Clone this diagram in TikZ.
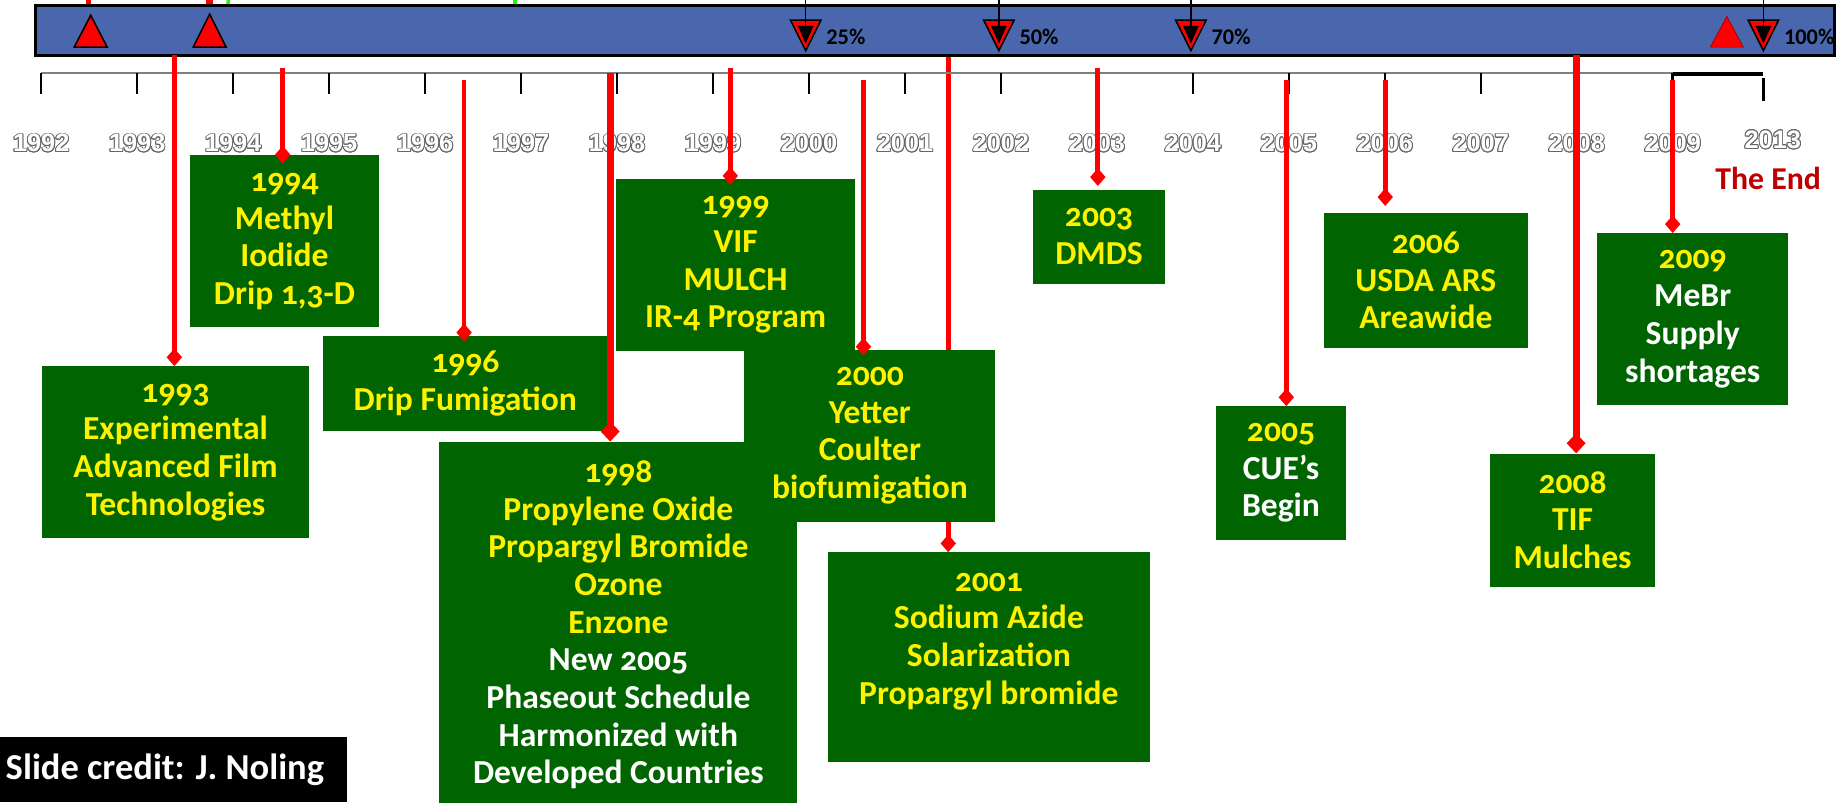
\documentclass[tikz,border=0pt]{standalone}
\usepackage{fontspec}
\setmainfont{Carlito}[Numbers=OldStyle]
\newfontfamily\yearfont{Liberation Sans}
\newfontfamily\linfont{Carlito}[Numbers=Lining]
\usepackage[copies]{contour}
\contourlength{0.8pt}
\usetikzlibrary{arrows.meta,positioning,backgrounds}
\definecolor{barblue}{RGB}{74,102,172}
\definecolor{boxgreen}{RGB}{0,100,0}
\definecolor{endred}{RGB}{192,0,0}

\begin{document}
\begin{tikzpicture}[x=1pt, y=-1pt,
  evt/.style={rectangle, fill=boxgreen, inner sep=0pt, align=center,
    text=yellow, font=\bfseries\fontsize{28.5}{32}\selectfont},
  stem/.style={red, line width=4pt, -{Diamond[width=13pt,length=15pt]}},
  fatstem/.style={red, line width=6pt, -{Diamond[width=16pt,length=17pt]}},
  yr/.style={font=\yearfont\bfseries\fontsize{21.5}{21.5}\selectfont, text=white},
  upmark/.style={fill=red, draw=black, line width=1.3pt},
  downmark/.style={fill=red, draw=black, line width=1.3pt},
  pct/.style={font=\linfont\bfseries\fontsize{19}{19}\selectfont, anchor=west}
]
\useasboundingbox (0,0) rectangle (1568,681);

% bits cut off at the top
\draw[red, line width=4pt] (75,0) -- (75,6);
\draw[red, line width=6pt] (178,0) -- (178,6);
\draw[green!90!yellow, line width=3pt] (194,0) -- (193,6);
\draw[green!90!yellow, line width=3pt] (437,0) -- (437,6);

% phase-out bar
\node[rectangle, draw=black, line width=2.5pt, fill=barblue, inner sep=0pt,
  minimum width=1527pt, minimum height=42pt] (bar) at (793.5,26) {};
\draw[upmark] (77,13) -- (91,40) -- (63,40) -- cycle;
\draw[upmark] (178,12) -- (192,40) -- (164,40) -- cycle;
\draw[fill=red, draw=red!60!black, line width=0.6pt] (1466,14) -- (1480,40) -- (1452,40) -- cycle;
\foreach \x/\p in {684/25, 848/50, 1011/70, 1497/100} {
  \draw[downmark] (\x-13,17) -- (\x+13,17) -- (\x,43) -- cycle;
  \draw[line width=1.3pt, -{Triangle[width=13pt,length=15pt]}] (\x,-2) -- (\x,37);
  \node[pct] (p\p) at (\x+14,31) {\p\%};
}

% axis and years
\draw[black!50, line width=2pt] (35,62) -- (1420,62);
\foreach \k in {0,...,17} {
  \pgfmathtruncatemacro\yy{1992+\k}
  \draw[line width=2pt] (35+81.47*\k,62) -- ++(0,18);
  \node[yr] (y\yy) at (35+81.47*\k,122) {\contour{black!60}{\yy}};
}
\draw[line width=3pt] (1420,63) -- (1497,63);
\draw[line width=3pt] (1497,66) -- (1497,86);
\node[yr] (y2013) at (1505,119) {\contour{black!60}{2013}};
\node[font=\bfseries\fontsize{27}{27}\selectfont, text=endred, below=8pt of y2013, xshift=-4pt] (theend) {The End};

% events
\node[evt, minimum width=226pt, minimum height=146pt] (e1993) at (149,384)
  {1993\\Experimental\\Advanced Film\\Technologies};
\node[evt, minimum width=161pt, minimum height=146pt] (e1994) at (241.5,205)
  {1994\\Methyl\\Iodide\\Drip 1,3-D};
\node[evt, minimum width=242pt, minimum height=81pt] (e1996) at (395,325.5)
  {1996\\Drip Fumigation};
\node[evt, minimum width=304pt, minimum height=311pt] (e1998) at (525,530.5)
  {1998\\Propylene Oxide\\Propargyl Bromide\\Ozone\\Enzone\\
   \textcolor{white}{New 2005}\\\textcolor{white}{Phaseout Schedule}\\
   \textcolor{white}{Harmonized with}\\\textcolor{white}{Developed Countries}};
\node[evt, minimum width=203pt, minimum height=146pt] (e1999) at (624.5,225)
  {1999\\VIF\\MULCH\\IR-4 Program};
\node[evt, minimum width=273pt, minimum height=178pt] (e2001) at (839.5,558)
  {2001\\Sodium Azide\\Solarization\\Propargyl bromide\rule[-32pt]{0pt}{32pt}};
\coordinate (s2001) at (805,47);
\begin{scope}[on background layer]
\draw[stem] (s2001) -- (s2001 |- e2001.north);
\end{scope}
\node[evt, minimum width=213pt, minimum height=146pt] (e2000) at (738.5,370)
  {2000\\Yetter\\Coulter\\biofumigation};
\node[evt, minimum width=112pt, minimum height=80pt] (e2003) at (933,201)
  {2003\\DMDS};
\node[evt, minimum width=111pt, minimum height=113pt] (e2005) at (1087.5,401.5)
  {2005\\\textcolor{white}{CUE’s}\\\textcolor{white}{Begin}};
\node[evt, minimum width=173pt, minimum height=114pt] (e2006) at (1210.5,238)
  {2006\\USDA ARS\\Areawide};
\node[evt, minimum width=140pt, minimum height=113pt] (e2008) at (1335,441.5)
  {2008\\TIF\\Mulches};
\node[evt, minimum width=162pt, minimum height=146pt] (e2009) at (1437,271)
  {2009\\\textcolor{white}{MeBr}\\\textcolor{white}{Supply}\\\textcolor{white}{shortages}};

% stems from the time line
\coordinate (s1993) at (148,47);
\coordinate (s1994) at (240,58);
\coordinate (s1996) at (394,68);
\coordinate (s1998) at (518,62);
\coordinate (s1999) at (620,58);
\coordinate (s2000) at (733,68);
\coordinate (s2003) at (932,58);
\coordinate (s2005) at (1092,68);
\coordinate (s2006) at (1176,68);
\coordinate (s2008) at (1338,47);
\coordinate (s2009) at (1420,68);
\draw[stem] (s1993) -- (s1993 |- e1993.north);
\draw[stem, shorten >=-7pt] (s1994) -- (s1994 |- e1994.north);
\draw[stem, shorten >=-5pt] (s1996) -- (s1996 |- e1996.north);
\draw[fatstem] (s1998) -- (s1998 |- e1998.north);
\draw[stem, shorten >=-5pt] (s1999) -- (s1999 |- e1999.north);
\draw[stem, shorten >=-5pt] (s2000) -- (s2000 |- e2000.north);
\draw[stem, shorten >=3pt] (s2003) -- (s2003 |- e2003.north);
\draw[stem] (s2005) -- (s2005 |- e2005.north);
\draw[stem, shorten >=6pt] (s2006) -- (s2006 |- e2006.north);
\draw[fatstem] (s2008) -- (s2008 |- e2008.north);
\draw[stem] (s2009) -- (s2009 |- e2009.north);

% credit
\node[rectangle, fill=black, text=white, inner sep=0pt, minimum width=310pt, minimum height=55pt,
  font=\bfseries\fontsize{31}{31}\selectfont] (credit) at (140,653.5) {Slide credit: J.~Noling};
\end{tikzpicture}
\end{document}
